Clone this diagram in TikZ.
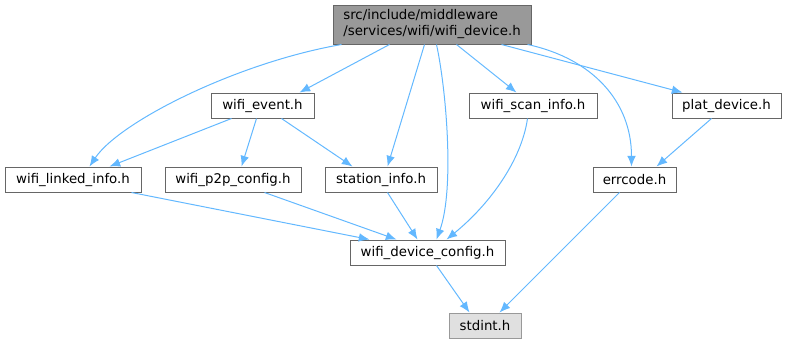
\documentclass[tikz,border=0pt]{standalone}
\usepackage{fontspec}
\setmainfont{DejaVu Sans}
\usetikzlibrary{arrows.meta,calc}
\definecolor{edgecol}{HTML}{63B8FF}
\definecolor{boxborder}{HTML}{666666}
\definecolor{mainfill}{HTML}{999999}
\definecolor{stdfill}{HTML}{E0E0E0}
\definecolor{stdborder}{HTML}{999999}
\tikzset{
  box/.style={draw=boxborder, fill=white, line width=0.75pt, inner sep=0pt, minimum height=25*0.75pt, font=\fontsize{10pt}{12pt}\selectfont},
  mainbox/.style={box, fill=mainfill, align=left},
  sysbox/.style={box, fill=stdfill, draw=stdborder},
  edge/.style={draw=edgecol, line width=0.75pt, -{Latex[length=8pt,width=6.5pt]}}
}
\begin{document}
\begin{tikzpicture}[x=0.75pt,y=-0.75pt]
\useasboundingbox (0,0) rectangle (787,344);
\node[mainbox, minimum width=198*0.75pt, minimum height=39*0.75pt] (main) at (432,24.5) {src/include/middleware\\/services/wifi/wifi\_device.h};
\node[box, minimum width=103*0.75pt] (event) at (262.5,105.5) {wifi\_event.h};
\node[box, minimum width=128*0.75pt] (scan) at (533,105.5) {wifi\_scan\_info.h};
\node[box, minimum width=109*0.75pt] (plat) at (726.5,105.5) {plat\_device.h};
\node[box, minimum width=136*0.75pt] (linked) at (73,179.5) {wifi\_linked\_info.h};
\node[box, minimum width=136*0.75pt] (p2p) at (233,179.5) {wifi\_p2p\_config.h};
\node[box, minimum width=112*0.75pt] (station) at (381,179.5) {station\_info.h};
\node[box, minimum width=83*0.75pt] (errcode) at (634.5,179.5) {errcode.h};
\node[box, minimum width=155*0.75pt] (devcfg) at (427.5,252.5) {wifi\_device\_config.h};
\node[sysbox, minimum width=72*0.75pt] (stdint) at (485,325.5) {stdint.h};

% from main
\draw[edge] ($(main.south west)+(9,0)$) .. controls ($(main.south west)+(-95,18)$) and ($(linked.north west)+(115,-45)$) .. ($(linked.north west)+(85,0)$);
\draw[edge] ($(main.south west)+(57,0)$) -- ($(event.north west)+(89,0)$);
\draw[edge] ($(main.south west)+(92,0)$) -- ($(station.north west)+(63,0)$);
\draw[edge] ($(main.south west)+(104,0)$) .. controls ($(main.south west)+(114,46)$) and ($(devcfg.north west)+(105,-50)$) .. ($(devcfg.north west)+(87,0)$);
\draw[edge] ($(main.south west)+(124,0)$) -- ($(scan.north west)+(48,0)$);
\draw[edge] ($(main.south west)+(169,0)$) -- ($(plat.north west)+(11,0)$);
\draw[edge] ($(main.south west)+(195,0)$) .. controls ($(main.south west)+(260,14)$) and ($(errcode.north west)+(39,-65)$) .. ($(errcode.north west)+(39,0)$);
% from wifi_event
\draw[edge] ($(event.south west)+(21,0)$) -- ($(linked.north west)+(105,0)$);
\draw[edge] ($(event.south west)+(46,0)$) -- ($(p2p.north west)+(77,0)$);
\draw[edge] ($(event.south west)+(71,0)$) -- ($(station.north west)+(28,0)$);
% to device config
\draw[edge] ($(linked.south west)+(127,0)$) -- ($(devcfg.north west)+(20,0)$);
\draw[edge] ($(p2p.south west)+(100,0)$) -- ($(devcfg.north west)+(47,0)$);
\draw[edge] ($(station.south west)+(63,0)$) -- ($(devcfg.north west)+(68,0)$);
\draw[edge] ($(scan.south west)+(59,0)$) .. controls ($(scan.south west)+(53,42)$) and ($(devcfg.north west)+(140,-35)$) .. ($(devcfg.north west)+(97,0)$);
% others
\draw[edge] ($(plat.south west)+(40,0)$) -- ($(errcode.north west)+(64,0)$);
\draw[edge] ($(errcode.south west)+(27,0)$) -- ($(stdint.north west)+(51,0)$);
\draw[edge] ($(devcfg.south west)+(87,0)$) -- ($(stdint.north west)+(21,0)$);
\end{tikzpicture}
\end{document}
